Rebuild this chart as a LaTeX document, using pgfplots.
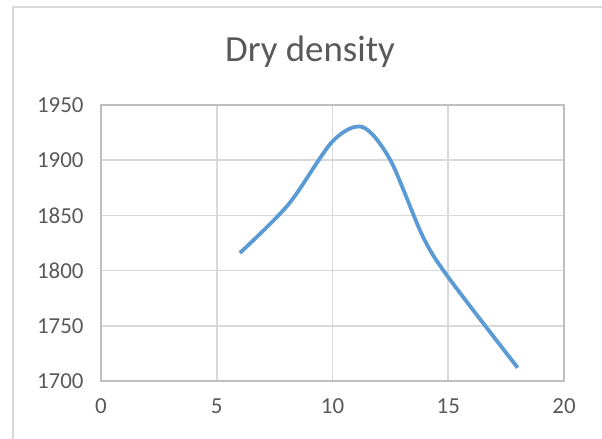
\documentclass[border=0pt]{standalone}
\usepackage{pgfplots}
\pgfplotsset{compat=1.18}
\usepackage{fontspec}
\setmainfont{Carlito}
\definecolor{txt}{HTML}{595959}
\definecolor{gridc}{HTML}{D9D9D9}
\definecolor{axisc}{HTML}{BFBFBF}
\definecolor{series}{HTML}{5B9BD5}
\begin{document}
\begin{tikzpicture}
\path[use as bounding box] (0bp,0bp) rectangle (602bp,439bp);
\clip (0bp,0bp) rectangle (602bp,439bp);
% chart area frame
\draw[gridc, line width=1.6bp] (13bp,-20bp) -- (13bp,432bp) -- (640bp,432bp);
\node[txt, font=\fontsize{37}{44}\selectfont, anchor=base] at (310bp,377bp) {Dry density};
\begin{axis}[
  at={(101bp,58bp)}, anchor=south west,
  scale only axis, width=463bp, height=276bp,
  xmin=0, xmax=20, ymin=1700, ymax=1950,
  xtick={0,5,10,15,20}, ytick={1700,1750,...,1950},
  grid=major,
  major grid style={gridc, line width=1.7bp},
  axis line style={axisc, line width=1.7bp},
  tick style={draw=none},
  ticklabel style={txt, font=\fontsize{23}{27}\selectfont},
  /pgf/number format/assume math mode=true,
  /pgf/number format/set thousands separator={},
  xticklabel style={yshift=-14bp},
  yticklabel style={xshift=-14bp},
]
% dry density against moisture content (%)
\addplot[series, line width=3.8bp, smooth, tension=0.5] coordinates {
  (6.0,1816) (8.1,1860) (10.0,1917) (11.3,1930) (12.5,1900)
  (13.9,1831) (15.0,1794) (18.0,1712)
};
\end{axis}
\end{tikzpicture}
\end{document}
